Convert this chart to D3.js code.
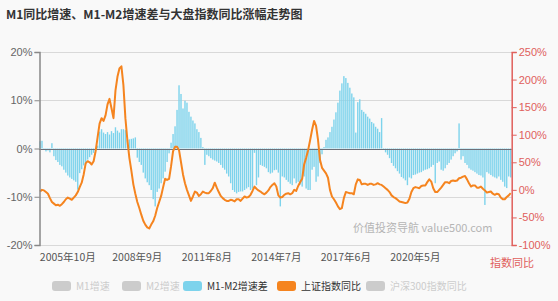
<!DOCTYPE html>
<html>
<head>
<meta charset="utf-8">
<script src="https://cdn.jsdelivr.net/npm/d3@7/dist/d3.min.js"></script>
<style>
  body { margin: 0; background: #f9f9f9; }
  svg { display: block; font-family: "Noto Sans CJK SC", "Noto Sans", sans-serif; }
</style>
</head>
<body>
<div id="renderer"></div>
<script>
// first month of the series, one value per month
var startYear = 2004;
var startMonth = 8;

// M1-M2 增速差 (%)
var gapValues = [
  1.5, 1.6, -0.3, -0.6, -0.4, -0.8, 1.1, -1.6, -2.4, -2.8,
  -3.4, -3.7, -4.4, -5.0, -5.6, -6.0, -6.3, -6.6, -6.9, -8.5,
  -5.1, -4.3, -3.5, -3.0, -2.3, -1.8, -1.3, -0.9, -0.3, 0.6,
  3.5, 4.0, 3.3, 3.0, 3.4, 2.9, 3.6, 3.2, 4.4, 3.7,
  3.3, 4.0, 4.0, 3.8, 1.8, 1.9, 2.0, 2.1, 2.3, -1.9,
  -2.8, -3.4, -5.0, -6.2, -7.0, -7.6, -8.6, -10.5, -12.0, -9.0,
  -8.3, -7.2, -6.2, -4.8, -2.8, -1.0, 1.2, 3.0, 4.6, 8.0,
  13.1, 11.3, 8.3, 9.9, 9.5, 7.6, 6.6, 5.8, 5.2, 4.0,
  3.4, 2.2, 0.3, -3.4, -1.3, -1.6, -2.0, -2.3, -2.5, -2.7,
  -3.0, -3.4, -4.0, -4.4, -5.2, -5.8, -7.2, -8.6, -9.0, -9.3,
  -9.0, -8.9, -8.9, -8.6, -8.3, -8.0, -8.6, -8.3, -0.9, -7.6,
  -6.0, -3.4, -3.6, -3.8, -4.1, -4.9, -5.2, -5.0, -4.5, -4.4,
  -5.0, -12.0, -5.8, -6.0, -6.5, -6.9, -7.3, -7.6, -6.2, -7.2,
  -6.9, -7.5, -7.9, -5.8, -8.3, -8.6, -8.6, -4.4, -3.8, -6.9,
  -5.8, -3.0, -1.2, 0.3, 1.8, 2.3, 3.4, 4.5, 6.0, 7.5,
  9.5, 12.0, 13.5, 15.0, 14.6, 13.6, 12.6, 11.4, 10.6, 3.3,
  9.6, 10.2, 8.0, 7.6, 7.2, 6.6, 6.2, 5.5, 5.2, 4.5,
  4.1, 3.4, 6.3, -0.3, -0.8, -1.3, -2.0, -3.0, -3.6, -4.1,
  -4.7, -5.2, -5.9, -6.2, -6.6, -7.6, -6.0, -6.2, -5.5, -5.4,
  -5.2, -5.0, -4.9, -4.6, -4.4, -4.3, -4.1, -3.8, -3.4, -7.2,
  -3.0, -2.7, -4.4, -4.6, -4.1, -3.4, -3.0, -2.3, -1.6, -1.0,
  -0.6, 5.2, -2.3, -1.6, -3.0, -3.4, -4.1, -4.4, -4.6, -4.9,
  -5.2, -5.5, -5.6, -6.0, -11.7, -4.9, -5.2, -5.5, -5.8, -6.0,
  -6.2, -5.8, -6.5, -6.9, -7.9, -8.2, -5.8, -6.0
];

// 上证指数同比 (%)
var indexValues = [
  -3, 0, -1, -4, -7, -15, -22, -25, -28, -27,
  -29, -26, -22, -17, -14, -16, -18, -14, -10, -4,
  5, 13, 28, 48, 52, 50, 46, 52, 70, 95,
  120, 130, 125, 135, 155, 165, 148, 130, 180, 205,
  220, 224, 190, 130, 90, 58, 35, 10, -7, -22,
  -33, -45, -56, -63, -68, -70, -63, -57, -47, -33,
  -22, -11, 5, 20, 18, 20, 43, 70, 78, 78,
  72, 50, 28, 12, 0, -10, -20, -12, -3, -5,
  -11, -8, -3, -5, -6, -6, -2, 3, 13, 4,
  -4, -11, -15, -18, -20, -20, -18, -19, -21, -17,
  -17, -20, -16, -12, -14, -13, -9, -2, 6, 2,
  -1, -3, -6, -8, -5, -1, 5, 9, 12, 6,
  -10, -14, -13, -9, -7, -6, -8, -6, 0, -2,
  7, 14, 20, 46, 58, 72, 90, 109, 125, 116,
  90, 54, 40, 35, 30, 22, 0, -12, -17, -23,
  -30, -35, -33, -15, -4, -5, -6, -6, -8, 10,
  19, 18, 10, 11, 11, 9, 11, 11, 9, 10,
  12, 10, 9, 6, 3, 0, -4, -10, -13, -15,
  -18, -21, -22, -23, -24, -23, -16, -4, 3, 5,
  4, 3, 7, 8, 8, 14, 19, 15, 3, -4,
  -4, 0, 4, 9, 14, 14, 12, 16, 17, 16,
  17, 21, 22, 24, 25, 19, 12, 6, 8, 8,
  4, 4, 6, 2, -1, -5, -4, -3, -7, -9,
  -7, -8, -14, -17, -17, -13, -10, -6
];

var xTickLabels = ['2005年10月', '2008年9月', '2011年8月', '2014年7月', '2017年6月', '2020年5月'];
var leftTicks = [-20, -10, 0, 10, 20];
var rightTicks = [-100, -50, 0, 50, 100, 150, 200, 250];
var legendNames = ['M1增速', 'M2增速', 'M1-M2增速差', '上证指数同比', '沪深300指数同比'];
var legendActive = [false, false, true, true, false];

var months = gapValues.map(function (v, i) {
  var m = startMonth - 1 + i;
  return (startYear + Math.floor(m / 12)) + '年' + ((m % 12) + 1) + '月';
});

var barColor = '#7dd3ec';
var lineColor = '#f5841f';
var rightColor = '#e0605c';
var legendColors = ['#ccc', '#ccc', barColor, lineColor, '#ccc'];

var svg = d3.select('#renderer').append('svg')
  .attr('width', 558)
  .attr('height', 301);

svg.append('rect').attr('width', 558).attr('height', 301).attr('fill', '#f9f9f9');

var x = d3.scaleBand().domain(months).range([39, 511.7]).padding(0);
var yL = d3.scaleLinear().domain([-20, 20]).range([245, 52]);
var yR = d3.scaleLinear().domain([-100, 250]).range([245, 52]);

// title
svg.append('text')
  .attr('x', 6)
  .attr('y', 19)
  .attr('font-size', 12)
  .attr('font-weight', 'bold')
  .attr('fill', '#333')
  .text('M1同比增速、M1-M2增速差与大盘指数同比涨幅走势图');

// grid
svg.append('g')
  .selectAll('line')
  .data(leftTicks.filter(function (t) { return t !== 0; }))
  .enter()
  .append('line')
  .attr('x1', 39)
  .attr('x2', 511.7)
  .attr('y1', function (d) { return Math.round(yL(d)) + 0.5; })
  .attr('y2', function (d) { return Math.round(yL(d)) + 0.5; })
  .attr('stroke', '#d9d9d9');

// bars
var bw = x.bandwidth();
svg.append('g')
  .selectAll('rect')
  .data(gapValues)
  .enter()
  .append('rect')
  .attr('x', function (d, i) { return x(months[i]) + bw * 0.15; })
  .attr('width', bw * 0.7)
  .attr('y', function (d) { return d > 0 ? yL(d) : yL(0); })
  .attr('height', function (d) { return Math.abs(yL(d) - yL(0)); })
  .attr('fill', barColor);

// zero line
svg.append('line')
  .attr('x1', 39)
  .attr('x2', 511.7)
  .attr('y1', Math.round(yL(0)) + 0.5)
  .attr('y2', Math.round(yL(0)) + 0.5)
  .attr('stroke', '#6e7079');

// index line
var line = d3.line()
  .x(function (d, i) { return x(months[i]) + bw / 2; })
  .y(function (d) { return yR(d); });

svg.append('path')
  .datum(indexValues)
  .attr('d', line)
  .attr('fill', 'none')
  .attr('stroke', lineColor)
  .attr('stroke-width', 2)
  .attr('stroke-linejoin', 'round');

// left axis
var leftAxis = svg.append('g')
  .attr('transform', 'translate(39.5,0)')
  .call(d3.axisLeft(yL).tickValues(leftTicks).tickSize(5).tickFormat(function (d) { return d + '%'; }));
leftAxis.select('.domain').attr('stroke', '#888').attr('stroke-width', 1.5);
leftAxis.selectAll('.tick line').attr('stroke', '#888');
leftAxis.selectAll('text').attr('fill', '#666').attr('font-size', 11).attr('font-family', null).attr('x', -7);

// right axis
var rightAxis = svg.append('g')
  .attr('transform', 'translate(511.7,0)')
  .call(d3.axisRight(yR).tickValues(rightTicks).tickSize(5).tickFormat(function (d) { return d + '%'; }));
rightAxis.select('.domain').attr('stroke', rightColor).attr('stroke-width', 1.5);
rightAxis.selectAll('.tick line').attr('stroke', rightColor);
rightAxis.selectAll('text').attr('fill', rightColor).attr('font-size', 11).attr('font-family', null).attr('x', 7);

svg.append('text')
  .attr('x', 512)
  .attr('y', 267)
  .attr('text-anchor', 'middle')
  .attr('font-size', 11)
  .attr('fill', rightColor)
  .text('指数同比');

// x labels
svg.append('g')
  .selectAll('text')
  .data(xTickLabels)
  .enter()
  .append('text')
  .attr('x', function (d) { return x(d) + bw / 2; })
  .attr('y', 261)
  .attr('text-anchor', 'middle')
  .attr('font-size', 10.5)
  .attr('fill', '#555')
  .text(function (d) { return d; });

// watermark
svg.append('text')
  .attr('x', 353)
  .attr('y', 232)
  .attr('font-size', 11)
  .attr('fill', '#b5b5b5')
  .text('价值投资导航 value500.com');

// legend
var legendX = [52, 122, 183, 277, 366];
var legend = svg.append('g')
  .selectAll('g')
  .data(legendNames)
  .enter()
  .append('g')
  .attr('transform', function (d, i) { return 'translate(' + legendX[i] + ',286)'; });

legend.append('rect')
  .attr('x', 0)
  .attr('y', -5)
  .attr('width', 19)
  .attr('height', 10)
  .attr('rx', 3)
  .attr('fill', function (d, i) { return legendColors[i]; });

legend.append('text')
  .attr('x', 24)
  .attr('y', 3.5)
  .attr('font-size', 10)
  .attr('fill', function (d, i) { return legendActive[i] ? '#333' : '#ccc'; })
  .text(function (d) { return d; });
</script>
</body>
</html>
